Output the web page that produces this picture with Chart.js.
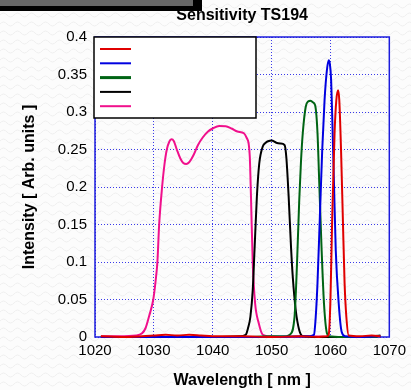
<!DOCTYPE html>
<html>
<head>
<meta charset="utf-8">
<script src="https://cdn.jsdelivr.net/npm/chart.js@4"></script>
<style>
html,body{margin:0;padding:0;}
body{width:411px;height:390px;overflow:hidden;position:relative;
background-color:#fcfcfc;
background-image:url("data:image/svg+xml;utf8,<svg xmlns='http://www.w3.org/2000/svg' width='14' height='9'><path d='M0 6 Q3.5 2 7 6 T14 6' stroke='%23efefef' stroke-width='1' fill='none'/></svg>");}
#bar{position:absolute;left:0;top:0;width:202px;height:11px;background:#000;}
#bar2{position:absolute;left:0;top:0;width:193px;height:6px;background:#666;}
canvas{position:absolute;left:0;top:0;}
</style>
</head>
<body>
<div id="bar"></div><div id="bar2"></div>
<canvas id="c" width="411" height="390"></canvas>
<script>
// ---- data ----
const xTicks = [1020, 1030, 1040, 1050, 1060, 1070];
const yTicks = [0, 0.05, 0.1, 0.15, 0.2, 0.25, 0.3, 0.35, 0.4];

const redX = [1021,1025,1030,1032,1034,1036,1038,1040,1045,1050,1055,1058,1059.4,1059.7,1060.0,1060.3,1060.7,1061.0,1061.3,1061.5,1061.8,1062.1,1062.4,1062.7,1063.1,1065,1067,1068.5];
const redY = [0.001,0,0.002,0.003,0.002,0.003,0.002,0.001,0.001,0,0.001,0,0.001,0.003,0.05,0.160,0.272,0.316,0.329,0.316,0.249,0.160,0.072,0.027,0.002,0.001,0.002,0.001];

const blueX = [1021,1040,1050,1056.5,1057.2,1057.5,1057.8,1058.2,1058.6,1059.0,1059.4,1059.7,1059.9,1060.1,1060.3,1060.6,1060.9,1061.4,1061.9,1062.5,1065,1068.5];
const blueY = [0,0,0,0.001,0.003,0.027,0.072,0.160,0.249,0.316,0.356,0.369,0.364,0.345,0.294,0.205,0.116,0.045,0.007,0.001,0,0.001];

const greenX = [1021,1035,1045,1050,1052.5,1053.1,1053.9,1054.3,1054.7,1055.0,1055.3,1055.8,1056.2,1056.6,1057.0,1057.4,1057.8,1058.1,1058.5,1058.9,1059.4,1059.8,1062,1066,1068];
const greenY = [0,0,0,0.001,0.001,0.003,0.027,0.094,0.183,0.235,0.272,0.307,0.314,0.315,0.313,0.309,0.272,0.205,0.116,0.045,0.005,0.001,0,0,0];

const blackX = [1021,1030,1040,1044.5,1045.6,1046.0,1046.4,1046.8,1047.1,1047.5,1047.9,1048.5,1049.0,1049.4,1050.0,1050.8,1051.5,1052.2,1052.5,1052.9,1053.3,1053.6,1054.1,1054.7,1055.3,1058,1062,1066,1068.5];
const blackY = [0,0,0,0.001,0.003,0.012,0.027,0.063,0.116,0.187,0.231,0.254,0.259,0.261,0.262,0.259,0.258,0.256,0.240,0.187,0.120,0.080,0.036,0.009,0.001,0,0,0,0.002];

const pinkX = [1021,1024,1027,1028,1028.6,1029.2,1029.9,1030.3,1030.6,1030.9,1031.4,1031.8,1032.2,1032.6,1033.0,1033.4,1033.9,1034.5,1035.0,1035.5,1036.0,1036.7,1037.5,1038.3,1039.2,1040.0,1041.1,1042.2,1043.2,1044.2,1045.3,1045.8,1046.1,1046.3,1046.5,1046.8,1047.2,1047.8,1048.5,1049.5,1052,1056,1062,1068];
const pinkY = [0.001,0.001,0.002,0.005,0.012,0.028,0.05,0.075,0.1,0.15,0.2,0.23,0.25,0.26,0.2636,0.261,0.25,0.238,0.232,0.2307,0.233,0.242,0.256,0.266,0.274,0.278,0.2813,0.281,0.278,0.274,0.2716,0.265,0.258,0.24,0.187,0.098,0.045,0.019,0.003,0.001,0,0.001,0,0];

const seriesColors = ['#e00000', '#0000e0', '#006414', '#000000', '#f0108c'];
const legendWidths = [2, 2, 3, 2, 2];

function pts(xs, ys){ return xs.map((x,i)=>({x:x, y:ys[i]})); }

const series = [
  pts(redX, redY), pts(blueX, blueY), pts(greenX, greenY), pts(blackX, blackY), pts(pinkX, pinkY)
];

const FONT = "'Liberation Sans', Arial, Helvetica, sans-serif";

const decor = {
  id: 'decor',
  beforeDatasetsDraw(chart){
    const a = chart.chartArea, ctx = chart.ctx;
    ctx.save();
    ctx.strokeStyle = '#1c1cdc';
    ctx.lineWidth = 1.5;
    ctx.strokeRect(a.left, a.top, a.right - a.left, a.bottom - a.top);
    ctx.restore();
  },
  afterDatasetsDraw(chart){
    const ctx = chart.ctx, a = chart.chartArea;
    ctx.save();
    // legend box (no labels in the reference)
    const lx = a.left - 1, ly = a.top, lw = 162, lh = 81;
    ctx.fillStyle = '#ffffff';
    ctx.fillRect(lx, ly, lw, lh);
    ctx.strokeStyle = '#000';
    ctx.lineWidth = 1.5;
    ctx.strokeRect(lx, ly, lw, lh);
    chart.data.datasets.forEach((ds, i) => {
      const y = ly + 12 + i * 14.3;
      ctx.strokeStyle = ds.borderColor;
      ctx.lineWidth = legendWidths[i];
      ctx.beginPath();
      ctx.moveTo(lx + 6, y);
      ctx.lineTo(lx + 37, y);
      ctx.stroke();
    });
    ctx.restore();
  },
  afterDraw(chart){
    const ctx = chart.ctx, a = chart.chartArea;
    const cx = (a.left + a.right) / 2;
    ctx.save();
    ctx.fillStyle = '#000';
    ctx.textAlign = 'center';
    ctx.textBaseline = 'middle';
    ctx.font = 'bold 16px ' + FONT;
    ctx.fillText('Sensitivity TS194', cx, 16);
    ctx.fillText('Wavelength [ nm ]', cx, 381);
    ctx.translate(30, (a.top + a.bottom) / 2);
    ctx.rotate(-Math.PI / 2);
    ctx.fillText('Intensity [ Arb. units ]', 0, 0);
    ctx.restore();
  }
};

new Chart(document.getElementById('c'), {
  type: 'line',
  data: {
    datasets: series.map((d, i) => ({
      label: '',
      data: d,
      borderColor: seriesColors[i],
      backgroundColor: seriesColors[i],
      borderWidth: 2,
      pointRadius: 0,
      fill: false,
      cubicInterpolationMode: 'monotone',
      clip: false
    }))
  },
  options: {
    responsive: false,
    animation: false,
    layout: { padding: { top: 37, right: 16, left: 0, bottom: 0 } },
    plugins: { legend: { display: false }, title: { display: false }, tooltip: { enabled: false } },
    scales: {
      x: {
        type: 'linear',
        min: xTicks[0], max: xTicks[xTicks.length - 1],
        afterBuildTicks: s => { s.ticks = xTicks.map(v => ({ value: v })); },
        afterFit: s => { s.height = 53; },
        ticks: { color: '#000', font: { family: FONT, size: 15 }, padding: 5, maxRotation: 0, autoSkip: false,
                 callback: v => String(v) },
        grid: { color: '#3a3aea', lineWidth: 1, drawTicks: false },
        border: { display: false, dash: [1, 2] }
      },
      y: {
        min: yTicks[0], max: yTicks[yTicks.length - 1],
        afterBuildTicks: s => { s.ticks = yTicks.map(v => ({ value: v })); },
        afterFit: s => { s.width = 95; },
        ticks: { color: '#000', font: { family: FONT, size: 15 }, padding: 8, autoSkip: false,
                 callback: v => String(v) },
        grid: { color: '#3a3aea', lineWidth: 1, drawTicks: false },
        border: { display: false, dash: [1, 2] }
      }
    }
  },
  plugins: [decor]
});
</script>
</body>
</html>
